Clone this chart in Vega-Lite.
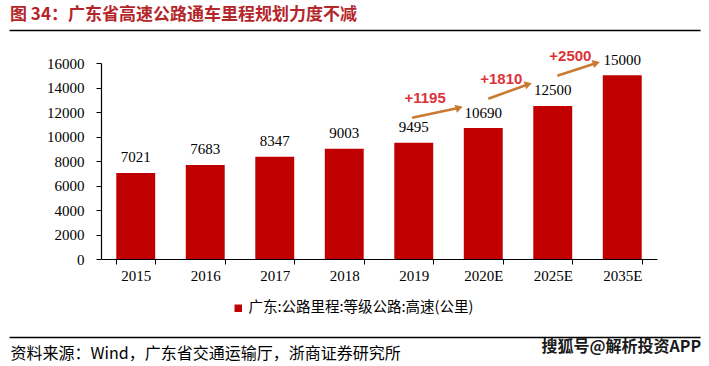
{
  "$schema": "https://vega.github.io/schema/vega-lite/v6.json",
  "width": 556,
  "height": 196,
  "autosize": {"type": "none"},
  "padding": {"left": 101, "top": 63, "right": 52, "bottom": 107},
  "background": "white",
  "title": {
    "text": "图 34：广东省高速公路通车里程规划力度不减",
    "anchor": "start",
    "frame": "group",
    "dx": -91,
    "offset": 6,
    "font": "Noto Sans CJK SC",
    "fontSize": 17,
    "fontWeight": "bold",
    "color": "#B4262A"
  },
  "datasets": {
    "mileage": [
      {"year": "2015", "value": 7021, "series": "广东:公路里程:等级公路:高速(公里)"},
      {"year": "2016", "value": 7683, "series": "广东:公路里程:等级公路:高速(公里)"},
      {"year": "2017", "value": 8347, "series": "广东:公路里程:等级公路:高速(公里)"},
      {"year": "2018", "value": 9003, "series": "广东:公路里程:等级公路:高速(公里)"},
      {"year": "2019", "value": 9495, "series": "广东:公路里程:等级公路:高速(公里)"},
      {"year": "2020E", "value": 10690, "series": "广东:公路里程:等级公路:高速(公里)"},
      {"year": "2025E", "value": 12500, "series": "广东:公路里程:等级公路:高速(公里)"},
      {"year": "2035E", "value": 15000, "series": "广东:公路里程:等级公路:高速(公里)"}
    ],
    "arrows": [
      {"x1": 4.477, "y1": 11535, "x2": 5.154, "y2": 12351, "label": "+1195"},
      {"x1": 5.572, "y1": 13085, "x2": 6.149, "y2": 14269, "label": "+1810"},
      {"x1": 6.566, "y1": 14963, "x2": 7.128, "y2": 16000, "label": "+2500"}
    ]
  },
  "layer": [
    {
      "data": {"values": [{"line": "header"}]},
      "mark": {"type": "rect", "color": "#000000", "clip": false},
      "encoding": {
        "x": {"datum": -1.316, "type": "quantitative", "scale": {"domain": [0, 8], "nice": false, "zero": false}, "axis": null},
        "x2": {"datum": 8.627},
        "y": {"datum": 18600, "type": "quantitative", "scale": {"domain": [0, 16000], "nice": false}, "axis": null},
        "y2": {"datum": 18722}
      }
    },
    {
      "data": {"name": "mileage"},
      "encoding": {
        "x": {
          "field": "year",
          "type": "nominal",
          "sort": null,
          "scale": {"paddingInner": 0.44, "paddingOuter": 0.22},
          "axis": {
            "title": "资料来源：Wind，广东省交通运输厅，浙商证券研究所",
            "titleX": -91,
            "titleY": 94,
            "titleAlign": "left",
            "titleBaseline": "middle",
            "titleFont": "Noto Sans CJK SC",
            "titleFontSize": 16,
            "titleFontWeight": "normal",
            "titleColor": "#000000",
            "labelFont": "Liberation Serif",
            "labelFontSize": 15,
            "labelColor": "#000000",
            "labelPadding": 4,
            "labelAngle": 0,
            "tickBand": "extent",
            "tickSize": 5,
            "tickColor": "#000000",
            "domainColor": "#000000",
            "domainWidth": 1.2,
            "grid": false
          }
        },
        "y": {
          "field": "value",
          "type": "quantitative",
          "scale": {"domain": [0, 16000], "nice": false},
          "axis": {
            "values": [0, 2000, 4000, 6000, 8000, 10000, 12000, 14000, 16000],
            "format": "d",
            "labelOverlap": false,
            "title": "搜狐号@解析投资APP",
            "titleX": 440,
            "titleY": 283,
            "titleAngle": 0,
            "titleAlign": "left",
            "titleBaseline": "middle",
            "titleFont": "Noto Sans CJK SC",
            "titleFontSize": 16,
            "titleFontWeight": "bold",
            "titleColor": "#1a1a1a",
            "labelFont": "Liberation Serif",
            "labelFontSize": 15,
            "labelColor": "#000000",
            "labelPadding": 12,
            "tickSize": 5,
            "tickColor": "#000000",
            "domainColor": "#000000",
            "domainWidth": 1.2,
            "grid": false
          }
        }
      },
      "layer": [
        {
          "mark": {"type": "bar", "color": "#C00000"},
          "encoding": {
            "color": {
              "field": "series",
              "type": "nominal",
              "scale": {"range": ["#C00000"]},
              "legend": {
                "orient": "none",
                "legendX": 130,
                "legendY": 238,
                "title": null,
                "padding": 0,
                "symbolType": "square",
                "symbolSize": 56,
                "symbolStrokeWidth": 0,
                "labelFont": "Noto Sans CJK SC",
                "labelFontSize": 14.5,
                "labelColor": "#000000",
                "labelOffset": 3,
                "labelLimit": 400
              }
            }
          }
        },
        {
          "mark": {"type": "text", "baseline": "alphabetic", "dy": -10.5, "font": "Liberation Serif", "fontSize": 15, "color": "#000000"},
          "encoding": {
            "text": {"field": "value", "type": "quantitative", "format": "d"}
          }
        }
      ]
    },
    {
      "data": {"name": "arrows"},
      "layer": [
        {
          "mark": {"type": "rule", "color": "#C97A30", "strokeWidth": 2.5},
          "encoding": {
            "x": {"field": "x1", "type": "quantitative", "scale": {"domain": [0, 8], "nice": false, "zero": false}, "axis": null},
            "x2": {"field": "x2"},
            "y": {"field": "y1", "type": "quantitative", "scale": {"domain": [0, 16000], "nice": false}, "axis": null},
            "y2": {"field": "y2"}
          }
        },
        {
          "mark": {"type": "point", "shape": "triangle-right", "filled": true, "size": 70, "angle": -17, "color": "#C97A30", "opacity": 1},
          "encoding": {
            "x": {"field": "x2", "type": "quantitative", "scale": {"domain": [0, 8], "nice": false, "zero": false}, "axis": null},
            "y": {"field": "y2", "type": "quantitative", "scale": {"domain": [0, 16000], "nice": false}, "axis": null}
          }
        },
        {
          "mark": {"type": "text", "dx": 13, "dy": -20, "font": "Liberation Sans", "fontWeight": "bold", "fontSize": 15, "color": "#DD3338"},
          "encoding": {
            "x": {"field": "x1", "type": "quantitative", "scale": {"domain": [0, 8], "nice": false, "zero": false}, "axis": null},
            "y": {"field": "y1", "type": "quantitative", "scale": {"domain": [0, 16000], "nice": false}, "axis": null},
            "text": {"field": "label"}
          }
        }
      ]
    },
    {
      "data": {"values": [{"line": "footer"}]},
      "mark": {"type": "rule", "color": "#000000", "strokeWidth": 1.5},
      "encoding": {
        "x": {"datum": -1.316, "type": "quantitative", "scale": {"domain": [0, 8], "nice": false, "zero": false}, "axis": null},
        "x2": {"datum": 8.627},
        "y": {"datum": -6400, "type": "quantitative", "scale": {"domain": [0, 16000], "nice": false}, "axis": null}
      }
    }
  ],
  "resolve": {"scale": {"x": "independent"}, "axis": {"x": "independent", "y": "independent"}},
  "config": {"view": {"stroke": null}}
}
